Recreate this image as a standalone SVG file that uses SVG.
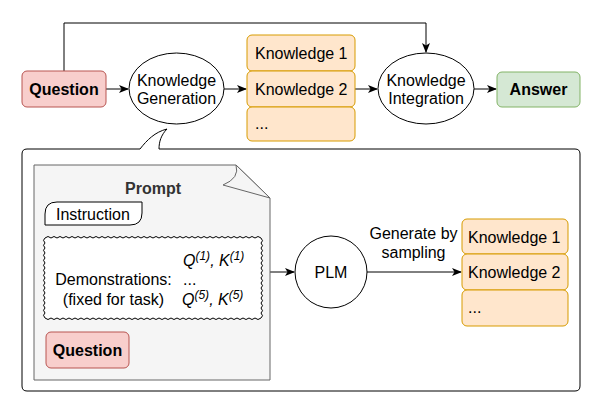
<svg xmlns="http://www.w3.org/2000/svg" width="598" height="418" viewBox="0 0 598 418">
<defs>
<marker id="arr" viewBox="0 0 10 10" refX="9" refY="5" markerWidth="10" markerHeight="10" markerUnits="userSpaceOnUse" orient="auto">
<path d="M0,1 L10,5 L0,9 L2.5,5 Z" fill="#000"/>
</marker>
</defs>
<style>
text{font-family:"Liberation Sans",Arial,sans-serif;font-size:16px;fill:#000}
.b{font-weight:bold}
.c{text-anchor:middle}
.i{font-style:italic}
.q{fill:#f8cecc;stroke:#b85450;stroke-width:1}
.k{fill:#ffe6cc;stroke:#d79b00;stroke-width:1}
.a{fill:#d5e8d4;stroke:#82b366;stroke-width:1}
.e{fill:#fff;stroke:#000;stroke-width:1}
.ln{fill:none;stroke:#000;stroke-width:1;marker-end:url(#arr)}
.sup{font-size:12px}
</style>
<g id="callout">
<path d="M27,149 H140 C147,140 155,132 167,129 C161,135 159,142 159,149 H575 Q580,149 580,154 V386 Q580,391 575,391 H27 Q22,391 22,386 V154 Q22,149 27,149 Z" fill="#fff" stroke="#000" stroke-width="1"/>
</g>
<g id="connectors">
<path class="ln" d="M64,71 V23 H426 V52"/>
<path class="ln" d="M106,89 H128"/>
<path class="ln" d="M224,89 H246"/>
<path class="ln" d="M355,89 H377"/>
<path class="ln" d="M474,89 H496"/>
<path class="ln" d="M261,272 H294"/>
<path class="ln" d="M367,272 H461"/>
<text class="c" x="413.5" y="239">Generate by</text>
<text class="c" x="413.5" y="258">sampling</text>
</g>
<g id="question">
<rect class="q" x="22" y="71" width="84" height="36" rx="5"/>
<text class="b c" x="64" y="95">Question</text>
</g>
<g id="knowledge-generation">
<ellipse class="e" cx="176.5" cy="88.5" rx="47.5" ry="35.5"/>
<text class="c" x="176.5" y="86">Knowledge</text>
<text class="c" x="176.5" y="104">Generation</text>
</g>
<g id="knowledge-list-top">
<rect class="k" x="247" y="35" width="108" height="36" rx="5"/>
<rect class="k" x="247" y="71" width="108" height="36" rx="5"/>
<rect class="k" x="247" y="107" width="108" height="34" rx="5"/>
<text x="255" y="59">Knowledge 1</text>
<text x="255" y="95">Knowledge 2</text>
<text x="255" y="129">...</text>
</g>
<g id="knowledge-integration">
<ellipse class="e" cx="426" cy="88.5" rx="48" ry="35.5"/>
<text class="c" x="426" y="86">Knowledge</text>
<text class="c" x="426" y="104">Integration</text>
</g>
<g id="answer">
<rect class="a" x="497" y="72" width="83" height="35" rx="5"/>
<text class="b c" x="538.5" y="95">Answer</text>
</g>
<g id="prompt">
<path d="M34,165 H236 L270,198 V380 H34 Z" fill="#f5f5f5" stroke="#666" stroke-width="1"/>
<path d="M236,165 Q240,178 223,185 L270,198 Z" fill="#f5f5f5" stroke="#666" stroke-width="1"/>
<text class="b c" x="153" y="194" style="fill:#333">Prompt</text>
</g>
<g id="instruction">
<path class="e" d="M57,202 H142 V213 Q142,225 130,225 H45 V214 Q45,202 57,202 Z"/>
<text x="56" y="220">Instruction</text>
</g>
<g id="demonstrations">
<path class="e" d="M45,238 q3,-3 6,0 q3,-3 6,0 q3,-3 6,0 q3,-3 6,0 q3,-3 6,0 q3,-3 6,0 q3,-3 6,0 q3,-3 6,0 q3,-3 6,0 q3,-3 6,0 q3,-3 6,0 q3,-3 6,0 q3,-3 6,0 q3,-3 6,0 q3,-3 6,0 q3,-3 6,0 q3,-3 6,0 q3,-3 6,0 q3,-3 6,0 q3,-3 6,0 q3,-3 6,0 q3,-3 6,0 q3,-3 6,0 q3,-3 6,0 q3,-3 6,0 q3,-3 6,0 q3,-3 6,0 q3,-3 6,0 q3,-3 6,0 q3,-3 6,0 q3,-3 6,0 q3,-3 6,0 q3,-3 6,0 q3,-3 6,0 q3,-3 6,0 q3,-3 6,0 q3,3 0,5 q3,3 0,5 q3,3 0,5 q3,3 0,5 q3,3 0,5 q3,3 0,5 q3,3 0,5 q3,3 0,5 q3,3 0,5 q3,3 0,5 q3,3 0,5 q3,3 0,5 q3,3 0,5 q3,3 0,5 q3,3 0,5 q3,3 0,5 q-3,3 -6,0 q-3,3 -6,0 q-3,3 -6,0 q-3,3 -6,0 q-3,3 -6,0 q-3,3 -6,0 q-3,3 -6,0 q-3,3 -6,0 q-3,3 -6,0 q-3,3 -6,0 q-3,3 -6,0 q-3,3 -6,0 q-3,3 -6,0 q-3,3 -6,0 q-3,3 -6,0 q-3,3 -6,0 q-3,3 -6,0 q-3,3 -6,0 q-3,3 -6,0 q-3,3 -6,0 q-3,3 -6,0 q-3,3 -6,0 q-3,3 -6,0 q-3,3 -6,0 q-3,3 -6,0 q-3,3 -6,0 q-3,3 -6,0 q-3,3 -6,0 q-3,3 -6,0 q-3,3 -6,0 q-3,3 -6,0 q-3,3 -6,0 q-3,3 -6,0 q-3,3 -6,0 q-3,3 -6,0 q-3,3 -6,0 q-3,-3 0,-5 q-3,-3 0,-5 q-3,-3 0,-5 q-3,-3 0,-5 q-3,-3 0,-5 q-3,-3 0,-5 q-3,-3 0,-5 q-3,-3 0,-5 q-3,-3 0,-5 q-3,-3 0,-5 q-3,-3 0,-5 q-3,-3 0,-5 q-3,-3 0,-5 q-3,-3 0,-5 q-3,-3 0,-5 q-3,-3 0,-5 Z"/>
<text class="i" x="183" y="266">Q<tspan class="sup" dy="-6">(1)</tspan><tspan dy="6">, K</tspan><tspan class="sup" dy="-6">(1)</tspan></text>
<text class="c" x="113.5" y="285">Demonstrations:</text>
<text x="183" y="285">...</text>
<text class="c" x="113.5" y="305">(fixed for task)</text>
<text class="i" x="182" y="305">Q<tspan class="sup" dy="-6">(5)</tspan><tspan dy="6">, K</tspan><tspan class="sup" dy="-6">(5)</tspan></text>
</g>
<g id="question-inner">
<rect class="q" x="46" y="332" width="83" height="36" rx="5"/>
<text class="b c" x="87.5" y="356">Question</text>
</g>
<g id="plm">
<circle class="e" cx="331" cy="272" r="36"/>
<text class="c" x="331" y="278">PLM</text>
</g>
<g id="knowledge-list-bottom">
<rect class="k" x="462" y="219" width="106" height="35" rx="5"/>
<rect class="k" x="462" y="254" width="106" height="36" rx="5"/>
<rect class="k" x="462" y="290" width="106" height="36" rx="5"/>
<text x="468" y="243">Knowledge 1</text>
<text x="468" y="278">Knowledge 2</text>
<text x="468" y="313">...</text>
</g>
</svg>
